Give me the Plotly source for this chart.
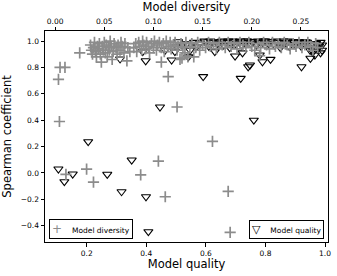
import plotly.graph_objects as go

# Model diversity (top axis) vs Spearman coefficient
div_x = [0.005, 0.010, 0.0034, 0.0044, 0.011, 0.025, 0.115, 0.124, 0.160, 0.105,
         0.032, 0.039, 0.087, 0.112, 0.176, 0.178,
         0.036, 0.037, 0.038, 0.039, 0.040, 0.041, 0.042, 0.043, 0.044, 0.045,
         0.046, 0.047, 0.048, 0.049, 0.050, 0.051, 0.052, 0.053, 0.054, 0.055,
         0.056, 0.057, 0.058, 0.059, 0.060, 0.062, 0.063, 0.064, 0.066, 0.067,
         0.068, 0.070, 0.071, 0.073, 0.074, 0.076,
         0.080, 0.082, 0.083, 0.085, 0.086, 0.088, 0.089, 0.090, 0.092, 0.093,
         0.095, 0.096, 0.098, 0.100, 0.101, 0.103, 0.104, 0.106, 0.108, 0.108,
         0.110, 0.111, 0.113, 0.115, 0.117, 0.118, 0.120, 0.122, 0.124, 0.125,
         0.127, 0.128, 0.129, 0.130, 0.132, 0.133, 0.135, 0.137, 0.139,
         0.141, 0.143, 0.145, 0.147, 0.150, 0.153, 0.156, 0.158, 0.161, 0.164,
         0.167, 0.170, 0.173, 0.176, 0.179, 0.182, 0.185, 0.188, 0.191, 0.194,
         0.197, 0.200, 0.203, 0.206, 0.208, 0.209, 0.212, 0.215, 0.218, 0.221,
         0.224, 0.227, 0.230, 0.233, 0.236, 0.239, 0.242, 0.245, 0.248, 0.251,
         0.254, 0.257, 0.260, 0.262, 0.265, 0.267]
div_y = [0.80, 0.80, 0.71, 0.39, -0.01, 0.91, 0.73, 0.50, 0.24, 0.09,
         0.03, -0.07, -0.015, -0.18, -0.14, -0.45,
         0.97, 0.93, 0.90, 0.95, 0.99, 0.92, 0.88, 0.96, 0.94, 0.98,
         0.90, 0.84, 0.96, 0.93, 0.99, 0.91, 0.97, 0.88, 0.95, 0.93,
         1.00, 0.96, 0.86, 0.92, 0.98, 0.95, 0.90, 0.97, 0.93, 0.99,
         0.96, 0.91, 0.98, 0.85, 0.95, 0.92,
         0.95, 0.98, 0.92, 0.99, 0.96, 0.93, 1.00, 0.97, 0.94, 0.99,
         0.96, 0.91, 0.98, 0.95, 1.00, 0.93, 0.97, 0.99, 0.95, 0.84,
         0.98, 0.92, 1.00, 0.96, 0.99, 0.94, 0.97, 0.99, 0.93, 0.96,
         0.86, 0.98, 0.87, 0.95, 0.91, 0.99, 0.88, 0.96, 0.98,
         0.88, 0.95, 0.99, 0.93, 0.97, 0.95, 0.99, 0.96, 0.98, 0.94,
         0.99, 0.97, 0.95, 0.99, 0.96, 0.98, 0.94, 0.99, 0.97, 0.95,
         0.99, 0.96, 0.93, 0.98, 0.89, 0.95, 0.99, 0.97, 0.94, 0.99,
         0.96, 0.98, 0.95, 0.99, 0.97, 0.94, 0.98, 0.96, 0.99, 0.95,
         0.97, 0.99, 0.96, 0.93, 0.98, 0.95]

# Model quality (bottom axis) vs Spearman coefficient
qual_x = [0.105, 0.125, 0.153, 0.205, 0.269, 0.317, 0.351, 0.399, 0.407, 0.446,
          0.312, 0.398, 0.591, 0.717, 0.761, 0.742, 0.921,
          0.388, 0.463, 0.485, 0.496, 0.502, 0.507, 0.520, 0.536, 0.541, 0.547,
          0.560, 0.569, 0.580, 0.600, 0.610, 0.620, 0.630, 0.640, 0.650, 0.660,
          0.670, 0.680, 0.690, 0.698, 0.700, 0.710, 0.720, 0.723, 0.730, 0.740,
          0.748, 0.750, 0.760, 0.770, 0.781, 0.790, 0.790, 0.800, 0.810, 0.817,
          0.820, 0.830, 0.840, 0.850, 0.860, 0.870, 0.880, 0.890, 0.900, 0.910,
          0.920, 0.930, 0.940, 0.950, 0.951, 0.955, 0.960, 0.965, 0.966, 0.970,
          0.975, 0.980, 0.985, 0.985, 0.990, 0.990,
          0.595, 0.615, 0.635, 0.655, 0.675, 0.695, 0.715, 0.735, 0.755, 0.775,
          0.795, 0.815, 0.835, 0.855, 0.875, 0.895, 0.915, 0.935]
qual_y = [0.03, -0.066, -0.008, 0.237, -0.01, -0.142, 0.098, -0.18, -0.445, 0.50,
          0.864, 0.85, 0.73, 0.717, 0.40, 0.805, 0.805,
          0.92, 0.93, 0.856, 0.92, 0.957, 0.995, 0.97, 0.98, 0.88, 0.93,
          0.99, 0.957, 0.985, 0.995, 0.96, 0.99, 0.92, 0.98, 0.995, 0.97,
          0.99, 0.95, 1.00, 0.886, 0.98, 0.995, 0.97, 0.91, 0.99, 1.00,
          0.818, 0.98, 0.995, 0.97, 0.894, 0.843, 0.99, 1.00, 0.98, 0.861,
          0.995, 0.97, 0.99, 0.95, 1.00, 0.98, 0.96, 0.99, 0.97, 0.995,
          0.96, 0.98, 0.99, 0.93, 0.869, 0.97, 0.92, 0.95, 0.894, 0.98,
          0.94, 0.96, 0.99, 0.91, 0.97, 0.93,
          1.00, 1.00, 0.995, 1.00, 1.00, 0.995, 1.00, 1.00, 0.995, 1.00,
          1.00, 0.995, 1.00, 0.99, 1.00, 0.995, 0.99, 0.995]

series_names = ["Model diversity", "Model quality"]

FONT = "DejaVu Sans"
GRAY = "#8c8c8c"

fig = go.Figure()
fig.add_trace(go.Scatter(
    x=div_x, y=div_y, xaxis="x2", mode="markers", name=series_names[0],
    marker=dict(symbol="cross-thin", size=8, color="rgba(0,0,0,0)",
                line=dict(color=GRAY, width=1.7)),
))
fig.add_trace(go.Scatter(
    x=qual_x, y=qual_y, xaxis="x", mode="markers", name=series_names[1],
    marker=dict(symbol="triangle-down-open", size=8, color="black",
                line=dict(color="black", width=1.1)),
))

axis_common = dict(showline=True, linecolor="black", linewidth=1, ticks="outside",
                   ticklen=3.5, tickwidth=1, tickcolor="black", showgrid=False,
                   zeroline=False, automargin=False,
                   tickfont=dict(family=FONT, size=7.5, color="black"))

# legend boxes (matplotlib-style, one per series)
legend_boxes = [
    dict(x=0.014, xanchor="left",
         text=f"<span style='color:{GRAY};font-size:12px'>+</span>\u2003 {series_names[0]}"),
    dict(x=0.986, xanchor="right",
         text=f"<span style='font-size:11px'>\u25BD</span>\u2003 {series_names[1]}"),
]
annotations = []
for lb in legend_boxes:
    annotations.append(dict(
        xref="paper", yref="paper", x=lb["x"], y=0.012, xanchor=lb["xanchor"],
        yanchor="bottom", text=lb["text"], showarrow=False,
        font=dict(family=FONT, size=7.5, color="black"),
        bgcolor="white", bordercolor="black", borderwidth=1, borderpad=2,
    ))

fig.update_layout(
    width=337, height=276,
    margin=dict(l=45, r=9, t=31, b=34),
    plot_bgcolor="white", paper_bgcolor="white",
    font=dict(family=FONT, color="black"),
    showlegend=False,
    annotations=annotations,
    xaxis=dict(range=[0.06, 1.01], tickvals=[0.2, 0.4, 0.6, 0.8, 1.0],
               ticktext=["0.2", "0.4", "0.6", "0.8", "1.0"],
               title=dict(text="Model quality", font=dict(family=FONT, size=11.5), standoff=3),
               **axis_common),
    xaxis2=dict(range=[-0.0103, 0.2775], overlaying="x", side="top", anchor="y",
                tickvals=[0.0, 0.05, 0.10, 0.15, 0.20, 0.25],
                ticktext=["0.00", "0.05", "0.10", "0.15", "0.20", "0.25"],
                title=dict(text="Model diversity", font=dict(family=FONT, size=11.5), standoff=3),
                **axis_common),
    yaxis=dict(range=[-0.523, 1.076], tickvals=[-0.4, -0.2, 0.0, 0.2, 0.4, 0.6, 0.8, 1.0],
               ticktext=["\u22120.4", "\u22120.2", "0.0", "0.2", "0.4", "0.6", "0.8", "1.0"],
               mirror=True,
               title=dict(text="Spearman coefficient", font=dict(family=FONT, size=11.5), standoff=7),
               **axis_common),
)

fig.write_html("out.html", config={"displayModeBar": False},
               post_script="document.body.style.margin='0';document.body.style.overflow='hidden';")
